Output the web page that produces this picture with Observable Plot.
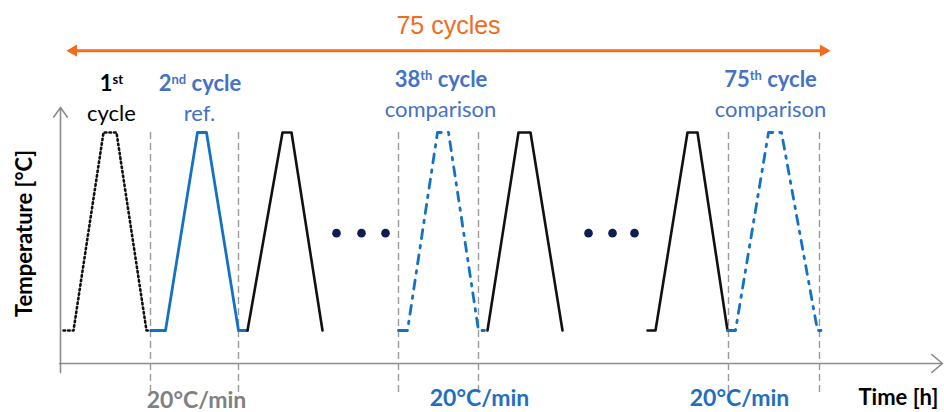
<!DOCTYPE html>
<html><head><meta charset="utf-8">
<script src="https://cdn.jsdelivr.net/npm/d3@7"></script>
<script src="https://cdn.jsdelivr.net/npm/@observablehq/plot@0.6"></script>
<style>body{margin:0;background:#fff}</style>
</head><body><div id="chart"></div>
<script>
// ---- schematic data: [time, temperature] vertices (arbitrary units) ----
const cycleFirst = [[3,10],[13,10],[43,70],[56,70],[86,10],[91,10]];
const cycleRef = [[91,10],[105,10],[137,70],[146,70],[178,10],[187,10]];
const cyclesBlack = [
  [[187,10],[222,70],[231,70],[262,10]],
  [[427,10],[458,70],[470,70],[502,10]],
  [[587,10],[595,10],[627,70],[637,70],[667,10]]
];
const cyclesCompare = [
  [[338,10],[347,10],[377,70],[388,70],[418,10],[427,10]],
  [[667,10],[675,10],[708,70],[721,70],[757,10],[763,10]]
];
const boundaryTimes = [90, 178, 338, 418, 668, 759];
const ellipsisTimes = [276, 301, 325, 528, 552, 574];
const ellipsisTemp = 39.5;

const headingLabels = ["1^st^", "2^nd^ cycle", "38^th^ cycle", "75^th^ cycle"];
const headingTimes = [51, 139.5, 380.5, 710];
const headingTemps = [84.8, 84.8, 85.8, 85.8];
const subLabels = ["cycle", "ref.", "comparison", "comparison"];
const subTimes = [51, 139, 380, 710];
const subTemps = [75.5, 75.5, 76.7, 76.7];
const rateLabels = ["20°C/min", "20°C/min", "20°C/min"];
const rateTimes = [136, 419, 679];
const rateTemps = [-11.3, -10.7, -10.7];
const spanLabel = "75 cycles";
const spanTimes = [6, 770];
const spanTemp = 94.8;

const BLUE_LINE = "#1372c4", BLUE_TEXT = "#4472c4", GRAY = "#8c8c8c", ORANGE = "#f26b21", NAVY = "#0b1d51";
const toRows = (pts, id) => pts.map(([t, v]) => ({t, v, id}));
const rowsFirst = toRows(cycleFirst, 0);
const rowsRef = toRows(cycleRef, 0);
const rowsBlack = cyclesBlack.flatMap((c, i) => toRows(c, i));
const rowsCompare = cyclesCompare.flatMap((c, i) => toRows(c, i));
const heads = headingLabels.map((label, i) => ({label, t: headingTimes[i], v: headingTemps[i], black: i === 0}));
const subs = subLabels.map((label, i) => ({label, t: subTimes[i], v: subTemps[i], black: i === 0}));
const rates = rateLabels.map((label, i) => ({label, t: rateTimes[i], v: rateTemps[i], gray: i === 0}));

const font = "Lato, 'Open Sans', sans-serif";
const plot = Plot.plot({
  width: 944, height: 412,
  marginTop: 0, marginBottom: 0, marginLeft: 0, marginRight: 0,
  x: {domain: [0, 880], range: [60, 940], axis: null},
  y: {domain: [0, 100], range: [363, 33], axis: null},
  style: {fontFamily: font, background: "#fff"},
  marks: [
    // axes with arrowheads
    Plot.arrow([0], {x1: 0, x2: 0, y1: -2.7, y2: 77.6, stroke: GRAY, strokeWidth: 1.6, headLength: 11, headAngle: 70}),
    Plot.arrow([0], {x1: -1, x2: 882, y1: 0, y2: 0, stroke: GRAY, strokeWidth: 1.6, headLength: 13, headAngle: 80}),
    // cycle boundaries
    Plot.ruleX(boundaryTimes, {y1: -8.8, y2: 71.2, stroke: "#9a9a9a", strokeWidth: 1.4, strokeDasharray: "7,4"}),
    // cycles
    Plot.line(rowsFirst, {x: "t", y: "v", z: "id", stroke: "#111", strokeWidth: 2.6, strokeDasharray: "1.6,3", strokeLinecap: "round", strokeLinejoin: "round"}),
    Plot.line(rowsRef, {x: "t", y: "v", z: "id", stroke: BLUE_LINE, strokeWidth: 2.8, strokeLinejoin: "round"}),
    Plot.line(rowsBlack, {x: "t", y: "v", z: "id", stroke: "#111", strokeWidth: 2.6, strokeLinejoin: "round"}),
    Plot.line(rowsCompare, {x: "t", y: "v", z: "id", stroke: BLUE_LINE, strokeWidth: 2.8, strokeDasharray: "9,7,2.5,7", strokeLinejoin: "round"}),
    // ellipsis dots
    Plot.dot(ellipsisTimes, {x: d => d, y: ellipsisTemp, r: 4.3, fill: NAVY, stroke: null}),
    // 75 cycles span arrow
    Plot.ruleY([spanTemp], {x1: spanTimes[0] + 6, x2: spanTimes[1] - 6, stroke: ORANGE, strokeWidth: 3}),
    Plot.dot([spanTimes[0]], {x: d => d, y: spanTemp, symbol: "triangle", r: 4.6, rotate: -90, dx: 7, fill: ORANGE, stroke: null}),
    Plot.dot([spanTimes[1]], {x: d => d, y: spanTemp, symbol: "triangle", r: 4.6, rotate: 90, dx: -7, fill: ORANGE, stroke: null}),
    Plot.text([spanLabel], {x: (spanTimes[0] + spanTimes[1]) / 2, y: 102.4, text: d => d, fill: ORANGE, fontSize: 25, fontFamily: "'Liberation Sans', Arial, sans-serif"}),
    // headings
    Plot.text(heads.filter(d => d.black), {x: "t", y: "v", text: "label", fill: "#000", fontSize: 22, fontWeight: "bold"}),
    Plot.text(heads.filter(d => !d.black), {x: "t", y: "v", text: "label", fill: BLUE_TEXT, fontSize: 22, fontWeight: "bold"}),
    Plot.text(subs.filter(d => d.black), {x: "t", y: "v", text: "label", fill: "#000", fontSize: 22}),
    Plot.text(subs.filter(d => !d.black), {x: "t", y: "v", text: "label", fill: BLUE_TEXT, fontSize: 22}),
    // rates
    Plot.text(rates.filter(d => d.gray), {x: "t", y: "v", text: "label", fill: "#808080", fontSize: 23, fontWeight: "bold"}),
    Plot.text(rates.filter(d => !d.gray), {x: "t", y: "v", text: "label", fill: "#1f6fc0", fontSize: 23, fontWeight: "bold"}),
    // axis titles
    Plot.text(["Time [h]"], {x: 798, y: -10.3, text: d => d, textAnchor: "start", fill: "#000", fontSize: 22, fontWeight: "bold"}),
    Plot.text(["Temperature [°C]"], {x: -35.4, y: 39.4, text: d => d, rotate: -90, fill: "#000", fontSize: 22, fontWeight: "bold"})
  ]
});
document.getElementById("chart").append(plot);

// superscripts ("1^st^" -> 1 + raised "st")
d3.select(plot).selectAll("text").each(function () {
  const s = this.textContent;
  if (!s.includes("^")) return;
  const [a, b, c] = s.split("^");
  const sel = d3.select(this).text(null);
  sel.append("tspan").text(a);
  sel.append("tspan").attr("font-size", "13px").attr("dy", -7).text(b);
  if (c) sel.append("tspan").attr("dy", 7).text(c);
});
</script>
</body></html>
